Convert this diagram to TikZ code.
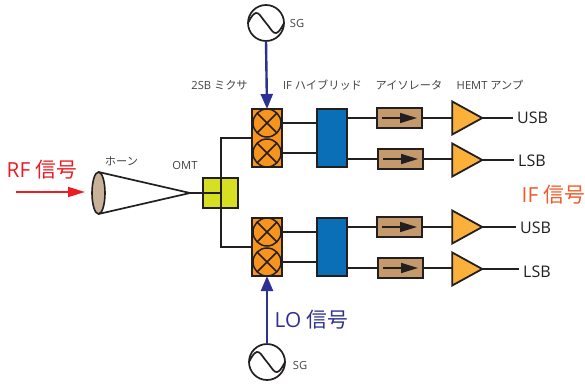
\documentclass[tikz,border=0pt]{standalone}
\usepackage{fontspec}
\setmainfont{Open Sans}
\newfontfamily\cjk{Noto Sans CJK JP}
\usetikzlibrary{shapes.geometric,arrows.meta}
\definecolor{mixorange}{HTML}{F7941E}
\definecolor{ampfill}{HTML}{FBB03B}
\definecolor{hybblue}{HTML}{0B6FB8}
\definecolor{omtyellow}{HTML}{D7DF23}
\definecolor{isobrown}{HTML}{C49A6C}
\definecolor{hornfill}{HTML}{C7B299}
\definecolor{lineink}{HTML}{231F20}
\definecolor{lonavy}{HTML}{2E3192}
\definecolor{rfred}{HTML}{ED1C24}
\definecolor{iforange}{HTML}{F15A29}
\tikzset{
  x=1pt,y=-1pt,
  wire/.style={draw=lineink,line width=1.7pt},
  boxbase/.style={draw=lineink,line width=2.2pt,inner sep=0pt,outer sep=0pt},
  omtbox/.style={boxbase,fill=omtyellow,minimum width=35pt,minimum height=30pt},
  mixbox/.style={boxbase,fill=mixorange,minimum width=30pt,minimum height=58pt},
  hybbox/.style={boxbase,fill=hybblue,minimum width=30pt,minimum height=58pt},
  isobox/.style={boxbase,fill=isobrown,minimum width=45pt,minimum height=20pt},
  mixcirc/.style={circle,draw=lineink,line width=1.5pt,inner sep=0pt,outer sep=0pt,minimum size=28pt},
  sgcirc/.style={circle,draw=lineink,line width=1.7pt,fill=white,inner sep=0pt,outer sep=0pt,minimum size=36pt},
  amp/.style={isosceles triangle,isosceles triangle stretches,shape border rotate=0,draw=lineink,line width=1.8pt,fill=ampfill,inner sep=0pt,outer sep=0pt,minimum width=33pt,minimum height=30pt},
  small/.style={text=lineink!85,font=\fontsize{11.2}{13}\selectfont,inner sep=0pt},
  band/.style={text=lineink,font=\fontsize{16}{18}\selectfont,inner sep=0pt,inner xsep=4pt,anchor=west},
  big/.style={font=\fontsize{20.8}{24}\selectfont,inner sep=0pt},
  loarrow/.style={draw=lonavy,line width=2.4pt,-{Triangle[length=15pt,width=12pt]}},
  isoarrow/.style={draw=lineink,line width=1.5pt,-{Triangle[length=17pt,width=10pt]}},
}
\begin{document}
\begin{tikzpicture}
\useasboundingbox (0,0) rectangle (585,385);
% horn
\node[draw=lineink,line width=1.6pt,fill=hornfill,ellipse,inner sep=0pt,outer sep=0pt,minimum width=13pt,minimum height=42pt] (horn) at (98.5,193) {};
\coordinate (hornTip) at (190,193);
\draw[wire] (horn.north) -- (hornTip) -- (horn.south);
% OMT
\node[omtbox] (omt) at (220.5,193) {};
% mixers
\node[mixbox] (mixA) at (267,138) {};
\node[mixbox] (mixB) at (267,247) {};
\foreach \n/\cy in {a1/123,a2/153,b1/232,b2/262}{
  \node[mixcirc] (\n) at (267,\cy) {};
  \draw[line width=1.5pt,draw=lineink] (\n.45) -- (\n.225) (\n.135) -- (\n.315);
}
% OMT wiring
\coordinate (junc) at (221,193);
\draw[wire] (hornTip) -- (junc);
\draw[wire,line join=miter] (mixA.west) -- (junc |- mixA.west) -- (junc |- mixB.west) -- (mixB.west);
% hybrids
\node[hybbox] (hybA) at (332,138) {};
\node[hybbox] (hybB) at (332,247) {};
\foreach \n/\h in {a1/hybA,a2/hybA,b1/hybB,b2/hybB}{
  \draw[wire] (\n -| mixA.east) -- (\n -| \h.west);
}
% isolators
\node[isobox] (iso1) at (399.5,118) {};
\node[isobox] (iso2) at (400.5,159) {};
\node[isobox] (iso3) at (399.5,227) {};
\node[isobox] (iso4) at (400.5,268) {};
\foreach \i in {1,2,3,4}{
  \draw[isoarrow] ([xshift=5pt]iso\i.west) -- ([xshift=-5pt]iso\i.east);
}
\draw[wire] (iso1 -| hybA.east) -- (iso1.west);
\draw[wire] (iso2 -| hybA.east) -- (iso2.west);
\draw[wire] (iso3 -| hybB.east) -- (iso3.west);
\draw[wire] (iso4 -| hybB.east) -- (iso4.west);
% amps
\node[amp] (amp1) at (462,118) {};
\node[amp] (amp2) at (462,160) {};
\node[amp] (amp3) at (462,227) {};
\node[amp] (amp4) at (462,269) {};
\node[band] (usbA) at (513,118) {USB};
\node[band] (lsbA) at (514,161) {LSB};
\node[band] (usbB) at (516,228) {USB};
\node[band] (lsbB) at (519,272) {LSB};
\draw[wire] (iso1.east) -- (amp1.west |- iso1);
\draw[wire] (iso2.east) -- (amp2.west |- iso2);
\draw[wire] (iso3.east) -- (amp3.west |- iso3);
\draw[wire] (iso4.east) -- (amp4.west |- iso4);
\draw[wire] (amp1.east) -- (amp1.east -| usbA.west) ;
\draw[wire] (amp2.east) -- (amp2.east -| lsbA.west) ;
\draw[wire] (amp3.east) -- (amp3.east -| usbB.west) ;
\draw[wire] (amp4.east) -- (amp4.east -| lsbB.west) ;
% signal generators
\node[sgcirc] (sgT) at (266,23) {};
\node[sgcirc] (sgB) at (267,362) {};
\foreach \s in {sgT,sgB}{
  \draw[wire] (\s.west) .. controls ([xshift=9pt,yshift=18pt]\s.west) and ([xshift=-7pt,yshift=8pt]\s.center) .. (\s.center)
     .. controls ([xshift=7pt,yshift=-8pt]\s.center) and ([xshift=-9pt,yshift=-18pt]\s.east) .. (\s.east);
}
\draw[loarrow] (sgT.south) -- (mixA.north);
\draw[loarrow] (sgB.north) -- (mixB.south);
% RF arrow
\coordinate (rfStart) at (16,192);
\draw[draw=rfred,line width=1.8pt,-{Triangle[length=17pt,width=10pt]}] (rfStart) -- ([xshift=-7pt]horn.west |- rfStart);
% labels
\node[big,text=rfred] (rfLab) at (42,170) {RF {\cjk 信号}};
\node[big,text=iforange] (ifLab) at (553.5,195) {IF {\cjk 信号}};
\node[big,text=lonavy] (loLab) at (311.5,320) {LO {\cjk 信号}};
\node[small] (lHorn) at (121.5,161) {\cjk ホーン};
\node[small] (lOmt) at (185,165) {OMT};
\node[small] (lMix) at (219.5,85) {2SB {\cjk ミクサ}};
\node[small] (lHyb) at (322.5,85) {IF {\cjk ハイブリッド}};
\node[small] (lIso) at (409,85) {\cjk アイソレータ};
\node[small] (lAmp) at (490,85) {HEMT {\cjk アンプ}};
\node[small] (lSgT) at (297,24) {SG};
\node[small] (lSgB) at (300,365) {SG};
\end{tikzpicture}
\end{document}
